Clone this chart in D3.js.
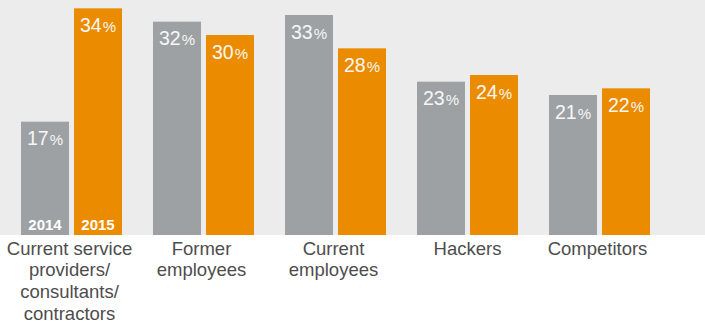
<!DOCTYPE html>
<html><head><meta charset="utf-8">
<script src="https://cdn.jsdelivr.net/npm/d3@7"></script>
<style>body{margin:0;background:#fff}svg{display:block}</style>
</head><body><svg id="c" width="705" height="327"></svg>
<script>
const categories = [["Current service","providers/","consultants/","contractors"],["Former","employees"],["Current","employees"],["Hackers"],["Competitors"]];
const years = ["2014","2015"];
const values2014 = [17,32,33,23,21];
const values2015 = [34,30,28,24,22];
const colors = {"2014":"#9da1a4","2015":"#eb8c00"};

const svg = d3.select("#c");
const W = 705, H = 327, base = 235;
svg.append("rect").attr("x",0).attr("y",0).attr("width",W).attr("height",base).attr("fill","#ebeceb");

const x0 = d3.scaleBand().domain(d3.range(categories.length)).range([5.5,665.5]).paddingInner(31/132).paddingOuter(15.5/132);
const x1 = d3.scaleBand().domain(years).range([0,x0.bandwidth()]).paddingInner(5/53);
const y = d3.scaleLinear().domain([0,35.25]).range([base,0]);

const data = [];
categories.forEach((c,i)=>{
  data.push({i, year:"2014", v:values2014[i]});
  data.push({i, year:"2015", v:values2015[i]});
});

const g = svg.append("g");
g.selectAll("rect.bar").data(data).join("rect").attr("class","bar")
  .attr("x",d=>x0(d.i)+x1(d.year)).attr("y",d=>y(d.v))
  .attr("width",x1.bandwidth()).attr("height",d=>base-y(d.v))
  .attr("fill",d=>colors[d.year]);

const lab = g.selectAll("text.val").data(data).join("text").attr("class","val")
  .attr("x",d=>x0(d.i)+x1(d.year)+x1.bandwidth()/2)
  .attr("y",d=>y(d.v)+23.5)
  .attr("text-anchor","middle")
  .attr("fill","#f7f7f7")
  .attr("font-family","Liberation Sans, Arial, sans-serif");
lab.append("tspan").attr("font-size","19.5px").text(d=>d.v);
lab.append("tspan").attr("font-size","15px").attr("dx","1").text("%");

// year labels inside first group
g.selectAll("text.yr").data(years).join("text").attr("class","yr")
  .attr("x",d=>x0(0)+x1(d)+x1.bandwidth()/2).attr("y",230)
  .attr("text-anchor","middle").attr("fill","#fff")
  .attr("font-family","Liberation Sans, Arial, sans-serif")
  .attr("font-weight","bold").attr("font-size","15px").text(d=>d);

// category labels
const cl = g.selectAll("text.cat").data(categories).join("text").attr("class","cat")
  .attr("x",(d,i)=>x0(i)+x0.bandwidth()/2).attr("y",254.5)
  .attr("text-anchor","middle").attr("fill","#4d4d4d")
  .attr("font-family","Liberation Sans, Arial, sans-serif").attr("font-size","18.5px");
cl.selectAll("tspan").data((d,i)=>d.map(t=>({t,i}))).join("tspan")
  .attr("x",d=>x0(d.i)+x0.bandwidth()/2 - (d.i===3?0:2))
  .attr("dy",(d,j)=>j===0?0:21.7).text(d=>d.t);
</script></body></html>
